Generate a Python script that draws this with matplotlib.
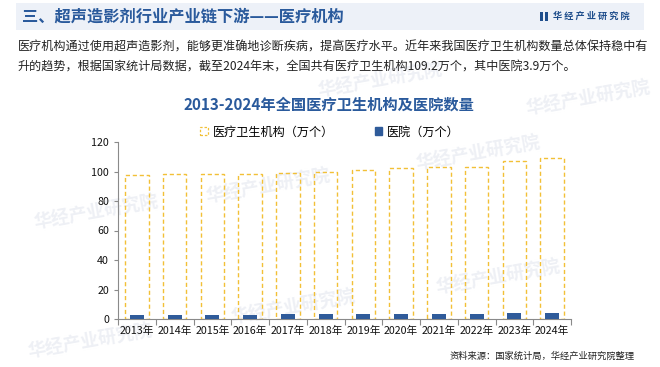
import numpy as np
import matplotlib.pyplot as plt
from matplotlib.patches import Patch, Rectangle

plt.rcParams['font.family'] = ['Noto Sans CJK SC', 'DejaVu Sans']

years = ['2013年', '2014年', '2015年', '2016年', '2017年', '2018年',
         '2019年', '2020年', '2021年', '2022年', '2023年', '2024年']
institutions = [97.4, 98.1, 98.4, 98.3, 98.7, 99.7, 100.8, 102.3, 103.1, 103.3, 107.1, 109.2]
hospitals = [2.47, 2.59, 2.76, 2.91, 3.11, 3.30, 3.44, 3.54, 3.66, 3.70, 3.87, 3.90]

gold = '#f2c037'
blue = '#2f5b9a'
W, H = 660, 367

fig = plt.figure(figsize=(6.6, 3.67), dpi=100)

def fx(px):
    return px / W

def fy(py):
    return 1 - py / H

# header band
fig.patches.append(Rectangle((fx(16), fy(30)), fx(628), 27 / H, transform=fig.transFigure,
                             facecolor='#edf1f8', edgecolor='none', zorder=0))
fig.text(fx(22), fy(17), '三、超声造影剂行业产业链下游——医疗机构', fontsize=11.7,
         fontweight='bold', color='#2a5a9c', va='center', ha='left')
# logo
fig.patches.append(Rectangle((fx(540), fy(21)), fx(3), 9 / H, transform=fig.transFigure,
                             facecolor='#1f4e8c', edgecolor='none'))
fig.patches.append(Rectangle((fx(544.5), fy(21)), fx(3.5), 9 / H, transform=fig.transFigure,
                             facecolor='#1f4e8c', edgecolor='none'))
fig.text(fx(553), fy(16.5), '华 经 产 业 研 究 院', fontsize=6.6, fontweight='bold',
         color='#1f4e8c', va='center', ha='left')

# paragraph
fig.text(fx(18), fy(47), '医疗机构通过使用超声造影剂，能够更准确地诊断疾病，提高医疗水平。近年来我国医疗卫生机构数量总体保持稳中有',
         fontsize=8.7, color='#222222', va='center', ha='left')
fig.text(fx(18), fy(67), '升的趋势，根据国家统计局数据，截至2024年末，全国共有医疗卫生机构109.2万个，其中医院3.9万个。',
         fontsize=8.7, color='#222222', va='center', ha='left')

# faint watermarks
marks = [(380, 80), (268, 186), (96, 212), (478, 153), (498, 277), (293, 307), (90, 341), (588, 98)]
for mx, my in marks:
    fig.text(fx(mx), fy(my), '华经产业研究院', fontsize=13, fontweight='bold', color='#eef0f5',
             rotation=10, ha='center', va='center', zorder=0.5)

# chart title
fig.text(fx(329), fy(105), '2013-2024年全国医疗卫生机构及医院数量', fontsize=11,
         fontweight='bold', color='#2a5a9c', ha='center', va='center')

ax = fig.add_axes([fx(118), fy(319), fx(571 - 118), (319 - 142) / H])
ax.set_zorder(1)
ax.patch.set_alpha(0)
x = np.arange(len(years))
ax.bar(x, institutions, width=0.62, facecolor='none', edgecolor=gold,
       linestyle=(0, (3, 2)), linewidth=1.0, zorder=2)
ax.bar(x, hospitals, width=0.37, color=blue, zorder=3)

ax.set_ylim(0, 120)
ax.set_yticks(np.arange(0, 121, 20))
ax.set_xlim(-0.5, len(years) - 0.5)
ax.set_xticks(x)
ax.set_xticklabels(years)
ax.set_xticks(np.arange(-0.5, len(years), 1), minor=True)
ax.tick_params(axis='x', which='major', length=0, pad=5, labelsize=7.7, colors='#111111')
ax.tick_params(axis='x', which='minor', length=4, color='#8a8a8a', width=0.8)
ax.tick_params(axis='y', length=3, color='#8a8a8a', width=0.8, labelsize=7.7, labelcolor='#111111')
for s in ['top', 'right']:
    ax.spines[s].set_visible(False)
for s in ['left', 'bottom']:
    ax.spines[s].set_color('#8a8a8a')
    ax.spines[s].set_linewidth(0.8)

handles = [Patch(facecolor='white', edgecolor=gold, linestyle=(0, (2, 1.5)), linewidth=0.9,
                 label='医疗卫生机构（万个）'),
           Patch(facecolor=blue, edgecolor=blue, label='医院（万个）')]
fig.legend(handles=handles, loc='center', bbox_to_anchor=(fx(330), fy(132)), ncol=2,
           frameon=False, fontsize=8.7, handlelength=0.6, handleheight=0.6,
           handletextpad=0.4, columnspacing=3.4)

fig.text(fx(635), fy(356), '资料来源：国家统计局，华经产业研究院整理', fontsize=6.7,
         color='#222222', ha='right', va='center')

fig.savefig('out.png', dpi=100)
